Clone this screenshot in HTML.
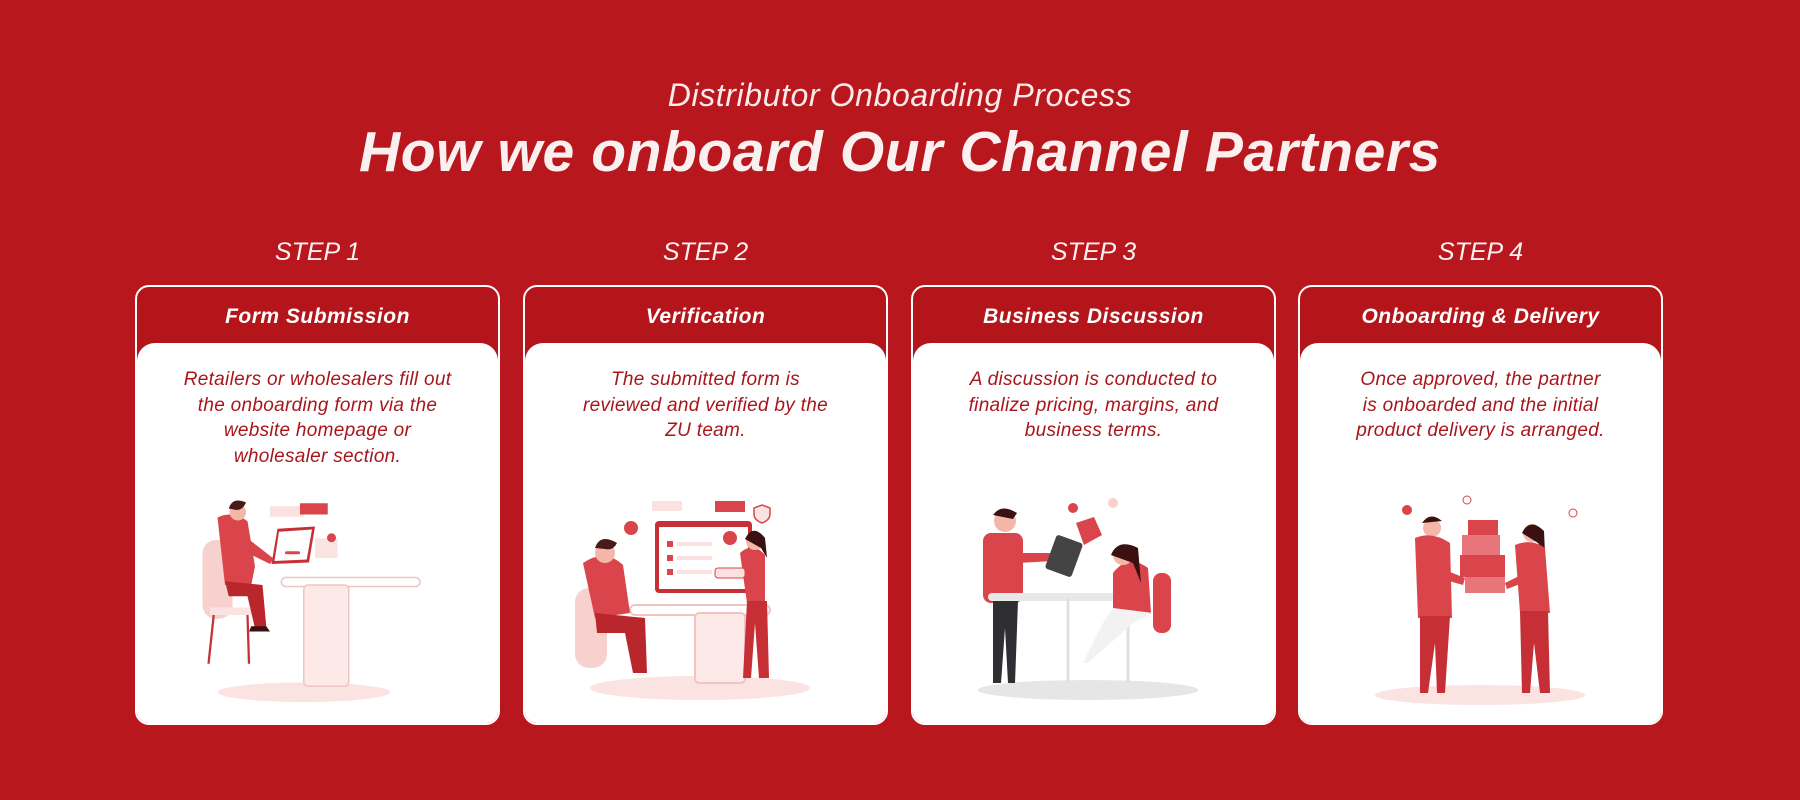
<!DOCTYPE html>
<html><head><meta charset="utf-8"><style>
*{margin:0;padding:0;box-sizing:border-box}
body{width:1800px;height:800px;background:#b8171d;font-family:"Liberation Sans",sans-serif;position:relative;overflow:hidden;color:#fff}
.sub{position:absolute;top:77px;width:100%;text-align:center;font-style:italic;font-size:32px;letter-spacing:0.6px;color:#fbeaea}
.title{position:absolute;top:119px;width:100%;text-align:center;font-style:italic;font-weight:bold;font-size:57px;letter-spacing:0.6px;color:#fbf0f0}
.step{position:absolute;top:238px;width:365px;text-align:center;font-style:italic;font-size:25px;color:#fdf2f2}
.card{position:absolute;top:285px;width:365px;height:440px;border:2px solid #fff;border-radius:14px;background:#b3151b;overflow:hidden}
.card h3{height:56px;line-height:60px;text-align:center;font-style:italic;font-weight:bold;font-size:21px;letter-spacing:0.5px;color:#fff}
.body{position:absolute;top:56px;left:0;right:0;bottom:0;background:#fff;border-radius:18px 18px 0 0}
.body p{margin-top:24px;padding:0 10px;text-align:center;font-style:italic;font-size:19px;letter-spacing:0.3px;line-height:25.5px;color:#a8161c;white-space:nowrap}
.body svg{position:absolute;left:0;top:0}
</style></head><body>
<div class="sub">Distributor Onboarding Process</div>
<div class="title">How we onboard Our Channel Partners</div>
<div class="step" style="left:135px">STEP 1</div>
<div class="step" style="left:523px">STEP 2</div>
<div class="step" style="left:911px">STEP 3</div>
<div class="step" style="left:1298px">STEP 4</div>

<div class="card" style="left:135px"><h3>Form Submission</h3><div class="body"><p>Retailers or wholesalers fill out<br>the onboarding form via the<br>website homepage or<br>wholesaler section.</p>
<svg width="365" height="384" viewBox="0 0 365 384">
<g transform="translate(28 92) scale(0.75)">
<ellipse cx="185" cy="343" rx="115" ry="13" fill="#fbe3e1"/>
<rect x="140" y="95" width="45" height="14" fill="#fbe1df"/><rect x="180" y="91" width="37" height="15" fill="#d9454a"/>
<rect x="200" y="138" width="30" height="26" fill="#fbe3e1"/><circle cx="222" cy="137" r="6" fill="#d9454a"/>
<rect x="155" y="190" width="185" height="12" rx="6" fill="#fff" stroke="#f0c4c2" stroke-width="2"/>
<rect x="185" y="200" width="60" height="135" rx="6" fill="#fde9e7" stroke="#f0c4c2" stroke-width="2"/>
<path d="M150 125 L200 122 L192 170 L142 172Z" fill="#c52f35"/><path d="M152 129 L196 126 L189 166 L146 168Z" fill="#fff"/>
<rect x="160" y="155" width="20" height="4" rx="2" fill="#d9454a"/>
<rect x="50" y="140" width="40" height="105" rx="18" fill="#f7d1ce"/>
<rect x="60" y="230" width="60" height="10" fill="#fbe3e1"/>
<path d="M70 110 Q90 100 110 115 L120 175 L115 200 L80 200 Z" fill="#d9454a"/>
<path d="M100 130 L145 165 L140 172 L95 150Z" fill="#d9454a"/>
<path d="M80 195 L130 200 L135 255 L120 258 L110 215 L85 215Z" fill="#b9262c"/>
<circle cx="97" cy="103" r="11" fill="#f3b6a8"/><path d="M85 98 Q90 82 108 90 Q104 100 95 100Z" fill="#4a1a1a"/>
<path d="M115 255 L135 255 L140 262 L112 262Z" fill="#3a1010"/>
<path d="M65 240 L58 305 M110 240 L112 305" stroke="#c52f35" stroke-width="3"/>
</g>
</svg></div></div>

<div class="card" style="left:523px"><h3>Verification</h3><div class="body"><p>The submitted form is<br>reviewed and verified by the<br>ZU team.</p>
<svg width="365" height="384" viewBox="0 0 365 384">
<ellipse cx="175" cy="345" rx="110" ry="12" fill="#fbe3e1"/>
<rect x="127" y="158" width="30" height="10" fill="#fbe1df"/><rect x="190" y="158" width="30" height="11" fill="#d9454a"/>
<path d="M237 162 l8 3 v6 q0 6 -8 9 q-8 -3 -8 -9 v-6z" fill="#fbe3e1" stroke="#d9454a" stroke-width="1.5"/>
<circle cx="106" cy="185" r="7" fill="#d9454a"/>
<rect x="130" y="178" width="97" height="72" rx="4" fill="#c52f35"/><rect x="134" y="184" width="89" height="62" fill="#fff"/>
<circle cx="205" cy="195" r="7" fill="#d9454a"/>
<rect x="142" y="198" width="6" height="6" fill="#d9454a"/><rect x="152" y="199" width="35" height="4" fill="#fbe1df"/>
<rect x="142" y="212" width="6" height="6" fill="#d9454a"/><rect x="152" y="213" width="35" height="4" fill="#fbe1df"/>
<rect x="142" y="226" width="6" height="6" fill="#d9454a"/><rect x="152" y="227" width="35" height="4" fill="#fbe1df"/>
<rect x="105" y="262" width="140" height="10" rx="5" fill="#fff" stroke="#f0c4c2" stroke-width="2"/>
<rect x="170" y="270" width="50" height="70" rx="4" fill="#fde9e7" stroke="#f0c4c2" stroke-width="2"/>
<rect x="50" y="245" width="32" height="80" rx="14" fill="#f7d1ce"/>
<path d="M58 220 Q80 205 98 222 L105 270 L70 275Z" fill="#d9454a"/>
<path d="M70 270 L120 275 L122 330 L108 330 L100 290 L72 290Z" fill="#b9262c"/>
<circle cx="80" cy="210" r="10" fill="#f3b6a8"/><path d="M70 205 Q75 190 92 200 Q88 208 80 206Z" fill="#4a1a1a"/>
<path d="M215 210 Q228 198 240 212 L240 260 L222 260Z" fill="#d9454a"/>
<path d="M222 258 L242 258 L244 335 L234 335 L230 280 L226 335 L218 335Z" fill="#c52f35"/>
<circle cx="230" cy="198" r="9" fill="#f3b6a8"/><path d="M220 196 Q228 180 240 195 L242 215 L236 205Z" fill="#3a1010"/>
<rect x="190" y="225" width="30" height="10" rx="3" fill="#fbe1df" stroke="#d9454a"/>
</svg></div></div>

<div class="card" style="left:911px"><h3>Business Discussion</h3><div class="body"><p>A discussion is conducted to<br>finalize pricing, margins, and<br>business terms.</p>
<svg width="365" height="384" viewBox="0 0 365 384">
<ellipse cx="175" cy="347" rx="110" ry="10" fill="#e6e6e6"/>
<circle cx="160" cy="165" r="5" fill="#d9454a"/><path d="M163 180 l18 -6 l8 18 l-18 10z" fill="#d9454a"/>
<circle cx="200" cy="160" r="5" fill="#fbd0cc"/>
<rect x="70" y="190" width="40" height="70" rx="8" fill="#d9454a"/>
<circle cx="92" cy="178" r="11" fill="#f3b6a8"/><path d="M80 172 Q88 160 104 170 L100 176Z" fill="#3a1010"/>
<path d="M80 258 L105 258 L102 340 L95 340 L92 285 L88 340 L80 340Z" fill="#2e2e33"/>
<path d="M105 210 L140 210 L140 218 L105 220Z" fill="#d9454a"/>
<rect x="137" y="195" width="28" height="36" rx="3" transform="rotate(20 151 213)" fill="#444"/>
<rect x="75" y="250" width="160" height="8" rx="4" fill="#e8e8e8"/>
<path d="M155 255 L155 340 M215 255 L215 340" stroke="#e0e0e0" stroke-width="3"/>
<rect x="240" y="230" width="18" height="60" rx="8" fill="#d9454a"/>
<path d="M200 230 Q215 210 235 225 L238 270 L200 268Z" fill="#d9454a"/>
<circle cx="210" cy="212" r="10" fill="#f3b6a8"/><path d="M198 212 Q205 195 225 205 L228 240 L220 220Z" fill="#3a1010"/>
<path d="M200 265 L240 270 L220 280 L175 320 L170 320 L190 280Z" fill="#f2f2f2"/>
</svg></div></div>

<div class="card" style="left:1298px"><h3>Onboarding &amp; Delivery</h3><div class="body"><p>Once approved, the partner<br>is onboarded and the initial<br>product delivery is arranged.</p>
<svg width="365" height="384" viewBox="0 0 365 384">
<ellipse cx="180" cy="352" rx="105" ry="10" fill="#fbe3e1"/>
<circle cx="107" cy="167" r="5" fill="#d9454a"/><circle cx="167" cy="157" r="4" fill="none" stroke="#d9454a"/><circle cx="273" cy="170" r="4" fill="none" stroke="#d9454a"/>
<rect x="168" y="177" width="30" height="15" fill="#d9454a"/><rect x="162" y="192" width="38" height="20" fill="#e8757a"/>
<rect x="160" y="212" width="45" height="22" fill="#d9454a"/><rect x="165" y="234" width="40" height="16" fill="#e8757a"/>
<circle cx="132" cy="185" r="9" fill="#f3b6a8"/><path d="M122 180 Q130 168 142 178Z" fill="#3a1010"/>
<path d="M115 195 Q132 188 150 200 L152 275 L118 275Z" fill="#d9454a"/>
<path d="M120 273 L150 273 L145 350 L137 350 L135 300 L128 350 L120 350Z" fill="#c52f35"/>
<path d="M140 225 L165 235 L163 242 L138 235Z" fill="#d9454a"/>
<circle cx="232" cy="190" r="9" fill="#f3b6a8"/><path d="M222 190 Q230 174 244 188 L245 210 L238 200Z" fill="#3a1010"/>
<path d="M215 202 Q232 195 245 205 L250 270 L220 270Z" fill="#d9454a"/>
<path d="M220 268 L248 268 L250 350 L240 350 L234 300 L230 350 L222 350Z" fill="#c52f35"/>
<path d="M225 230 L205 240 L207 246 L228 238Z" fill="#d9454a"/>
</svg></div></div>
</body></html>
